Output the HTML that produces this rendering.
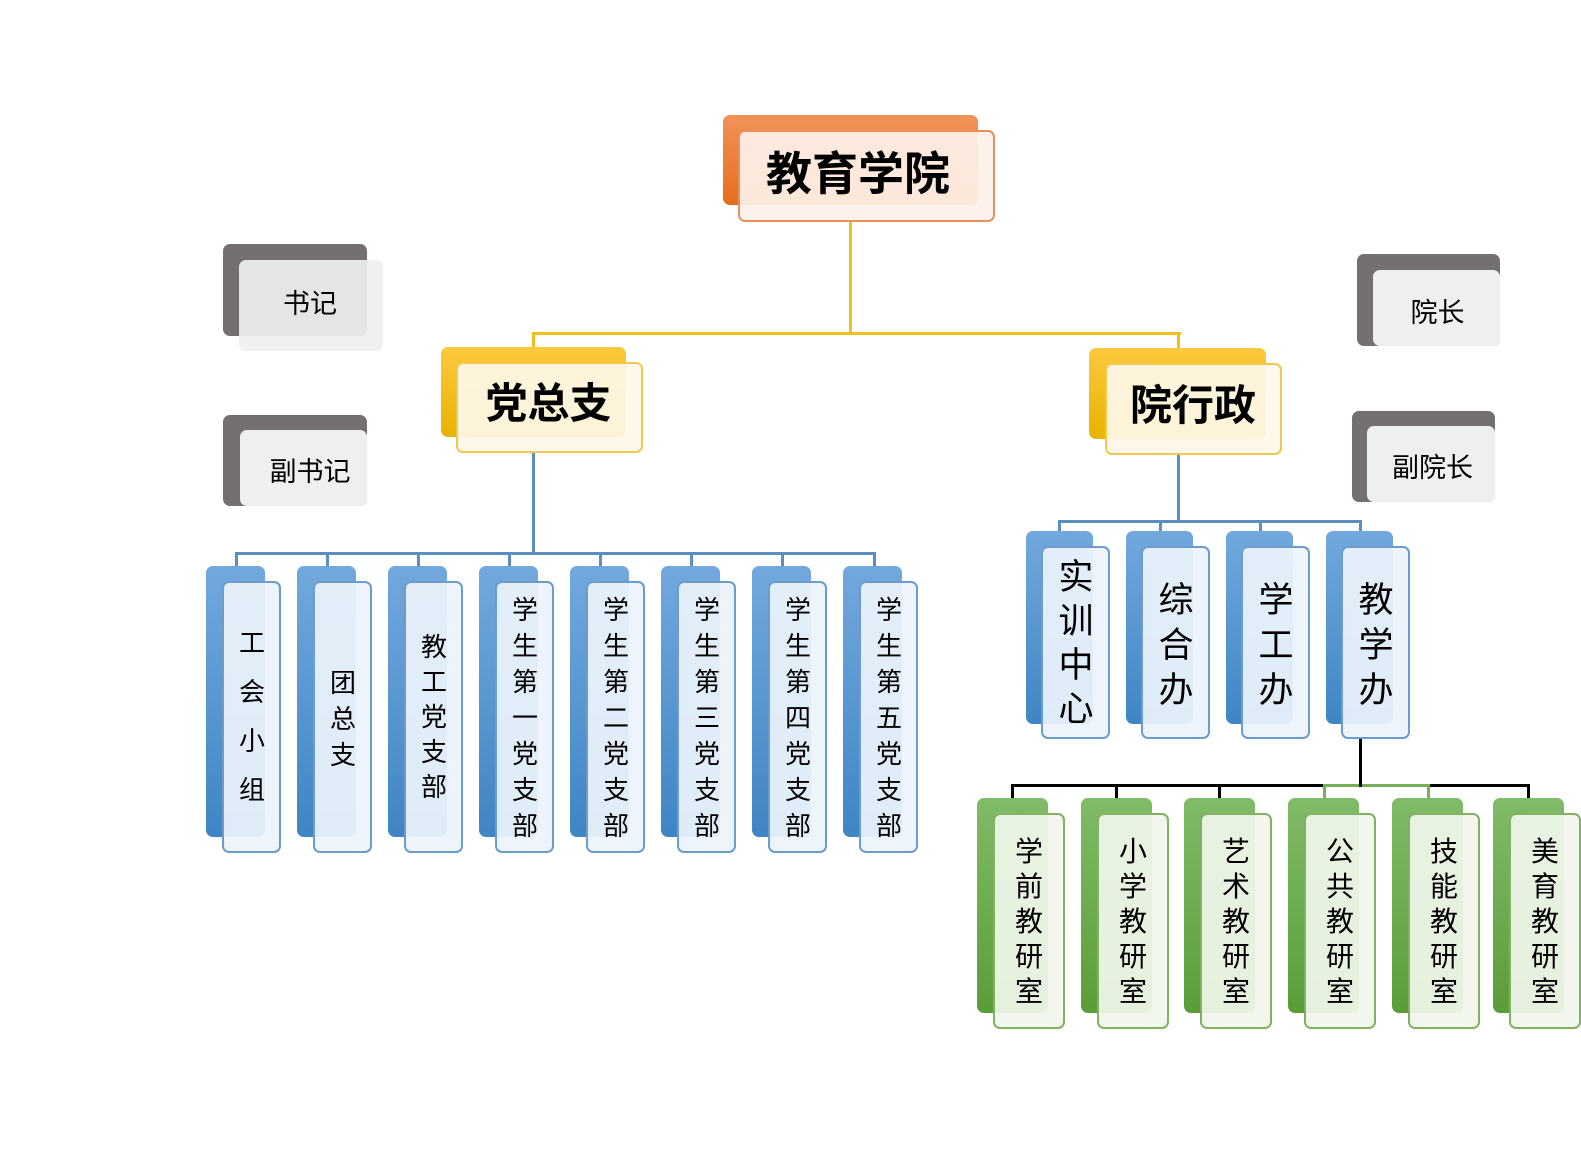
<!DOCTYPE html>
<html><head><meta charset="utf-8">
<style>
body{margin:0;width:1581px;height:1150px;background:#fff;position:relative;overflow:hidden;font-family:"Liberation Sans","Noto Sans CJK SC",sans-serif;color:#000}
div{position:absolute;box-sizing:border-box}
.r{border-radius:7px}
.ob{background:linear-gradient(#f09358,#e56d1c)}
.of{background:rgba(253,241,233,0.93);border:2px solid #e8905a}
.yb{background:linear-gradient(#fdc93e,#e7b300)}
.yf{background:rgba(253,248,232,0.93);border:2px solid #f0c850}
.gb{background:#747070}
.gf{background:rgba(239,239,239,0.92)}
.bb{background:linear-gradient(#72a8dd,#3f85c4)}
.bf{background:rgba(236,243,251,0.93);border:2px solid #6b9ccc}
.nb{background:linear-gradient(#80bb68,#5a9d38)}
.nf{background:rgba(240,246,236,0.93);border:2px solid #80b262}
.t{text-align:center;white-space:nowrap}
.v{text-align:center;width:60px}
.ln{position:absolute}
</style></head><body>

<!-- connectors -->
<div class="ln" style="left:849px;top:222px;width:3px;height:113px;background:#f0c020"></div>
<div class="ln" style="left:532px;top:332px;width:649px;height:3px;background:#f0c020"></div>
<div class="ln" style="left:532px;top:332px;width:3px;height:16px;background:#f0c020"></div>
<div class="ln" style="left:1177px;top:332px;width:3px;height:17px;background:#f0c020"></div>

<div class="ln" style="left:532px;top:453px;width:3px;height:101px;background:#5b8fc0"></div>
<div class="ln" style="left:235px;top:552px;width:641px;height:3px;background:#5b8fc0"></div>
<div class="ln" style="left:235px;top:552px;width:3px;height:15px;background:#5b8fc0"></div>
<div class="ln" style="left:326px;top:552px;width:3px;height:15px;background:#5b8fc0"></div>
<div class="ln" style="left:417px;top:552px;width:3px;height:15px;background:#5b8fc0"></div>
<div class="ln" style="left:508px;top:552px;width:3px;height:15px;background:#5b8fc0"></div>
<div class="ln" style="left:599px;top:552px;width:3px;height:15px;background:#5b8fc0"></div>
<div class="ln" style="left:690px;top:552px;width:3px;height:15px;background:#5b8fc0"></div>
<div class="ln" style="left:781px;top:552px;width:3px;height:15px;background:#5b8fc0"></div>
<div class="ln" style="left:873px;top:552px;width:3px;height:15px;background:#5b8fc0"></div>

<div class="ln" style="left:1177px;top:455px;width:3px;height:67px;background:#5b8fc0"></div>
<div class="ln" style="left:1058px;top:520px;width:304px;height:3px;background:#5b8fc0"></div>
<div class="ln" style="left:1058px;top:520px;width:3px;height:12px;background:#5b8fc0"></div>
<div class="ln" style="left:1159px;top:520px;width:3px;height:12px;background:#5b8fc0"></div>
<div class="ln" style="left:1259px;top:520px;width:3px;height:12px;background:#5b8fc0"></div>
<div class="ln" style="left:1359px;top:520px;width:3px;height:12px;background:#5b8fc0"></div>

<div class="ln" style="left:1011px;top:784px;width:519px;height:3px;background:#000"></div>
<div class="ln" style="left:1323px;top:784px;width:106px;height:3px;background:#78b058"></div>
<div class="ln" style="left:1359px;top:739px;width:3px;height:48px;background:#000"></div>
<div class="ln" style="left:1011px;top:784px;width:3px;height:15px;background:#000"></div>
<div class="ln" style="left:1115px;top:784px;width:3px;height:15px;background:#000"></div>
<div class="ln" style="left:1218px;top:784px;width:3px;height:15px;background:#000"></div>
<div class="ln" style="left:1323px;top:784px;width:3px;height:15px;background:#78b058"></div>
<div class="ln" style="left:1427px;top:784px;width:3px;height:15px;background:#78b058"></div>
<div class="ln" style="left:1527px;top:784px;width:3px;height:15px;background:#000"></div>

<!-- top -->
<div class="r ob" style="left:723px;top:115px;width:255px;height:90px"></div>
<div class="r of" style="left:738px;top:130px;width:257px;height:92px"></div>
<div class="t" style="left:738px;top:146px;width:240px;font-size:46px;line-height:56px;font-weight:bold">教育学院</div>

<div class="r yb" style="left:441px;top:347px;width:185px;height:90px"></div>
<div class="r yf" style="left:456px;top:362px;width:187px;height:91px"></div>
<div class="t" style="left:456px;top:378px;width:185px;font-size:42px;line-height:52px;font-weight:bold">党总支</div>

<div class="r yb" style="left:1089px;top:348px;width:177px;height:91px"></div>
<div class="r yf" style="left:1105px;top:363px;width:177px;height:92px"></div>
<div class="t" style="left:1105px;top:380px;width:176px;font-size:42px;line-height:52px;font-weight:bold">院行政</div>

<!-- gray -->
<div class="r gb" style="left:223px;top:244px;width:144px;height:92px"></div>
<div class="r gf" style="left:239px;top:260px;width:144px;height:91px"></div>
<div class="t" style="left:239px;top:287px;width:142px;font-size:27px;line-height:34px">书记</div>

<div class="r gb" style="left:223px;top:415px;width:144px;height:91px"></div>
<div class="r" style="left:240px;top:430px;width:127px;height:76px;background:#efefef"></div>
<div class="t" style="left:230px;top:455px;width:160px;font-size:27px;line-height:34px">副书记</div>

<div class="r gb" style="left:1357px;top:254px;width:143px;height:92px"></div>
<div class="r" style="left:1373px;top:270px;width:127px;height:76px;background:#efefef"></div>
<div class="t" style="left:1380px;top:296px;width:115px;font-size:27px;line-height:34px">院长</div>

<div class="r gb" style="left:1352px;top:411px;width:143px;height:91px"></div>
<div class="r" style="left:1367px;top:426px;width:128px;height:76px;background:#efefef"></div>
<div class="t" style="left:1365px;top:451px;width:135px;font-size:27px;line-height:34px">副院长</div>

<!-- left blue -->
<div class="r bb" style="left:206px;top:566px;width:59px;height:271px"></div>
<div class="r bf" style="left:222px;top:581px;width:59px;height:272px"></div>
<div class="v" style="left:222px;top:619px;font-size:26px;line-height:49px">工<br>会<br>小<br>组</div>

<div class="r bb" style="left:297px;top:566px;width:59px;height:271px"></div>
<div class="r bf" style="left:313px;top:581px;width:59px;height:272px"></div>
<div class="v" style="left:313px;top:665px;font-size:26px;line-height:36px">团<br>总<br>支</div>

<div class="r bb" style="left:388px;top:566px;width:59px;height:271px"></div>
<div class="r bf" style="left:404px;top:581px;width:59px;height:272px"></div>
<div class="v" style="left:404px;top:630px;font-size:26px;line-height:35px">教<br>工<br>党<br>支<br>部</div>

<div class="r bb" style="left:479px;top:566px;width:59px;height:271px"></div>
<div class="r bf" style="left:495px;top:581px;width:59px;height:272px"></div>
<div class="v" style="left:495px;top:592px;font-size:26px;line-height:36px">学<br>生<br>第<br>一<br>党<br>支<br>部</div>

<div class="r bb" style="left:570px;top:566px;width:59px;height:271px"></div>
<div class="r bf" style="left:586px;top:581px;width:59px;height:272px"></div>
<div class="v" style="left:586px;top:592px;font-size:26px;line-height:36px">学<br>生<br>第<br>二<br>党<br>支<br>部</div>

<div class="r bb" style="left:661px;top:566px;width:59px;height:271px"></div>
<div class="r bf" style="left:677px;top:581px;width:59px;height:272px"></div>
<div class="v" style="left:677px;top:592px;font-size:26px;line-height:36px">学<br>生<br>第<br>三<br>党<br>支<br>部</div>

<div class="r bb" style="left:752px;top:566px;width:59px;height:271px"></div>
<div class="r bf" style="left:768px;top:581px;width:59px;height:272px"></div>
<div class="v" style="left:768px;top:592px;font-size:26px;line-height:36px">学<br>生<br>第<br>四<br>党<br>支<br>部</div>

<div class="r bb" style="left:843px;top:566px;width:59px;height:271px"></div>
<div class="r bf" style="left:859px;top:581px;width:59px;height:272px"></div>
<div class="v" style="left:859px;top:592px;font-size:26px;line-height:36px">学<br>生<br>第<br>五<br>党<br>支<br>部</div>

<!-- right blue -->
<div class="r bb" style="left:1026px;top:531px;width:67px;height:193px"></div>
<div class="r bf" style="left:1041px;top:546px;width:69px;height:193px"></div>
<div class="v" style="left:1046px;top:556px;font-size:35px;line-height:44px">实<br>训<br>中<br>心</div>

<div class="r bb" style="left:1126px;top:531px;width:67px;height:193px"></div>
<div class="r bf" style="left:1141px;top:546px;width:69px;height:193px"></div>
<div class="v" style="left:1146px;top:578px;font-size:35px;line-height:45px">综<br>合<br>办</div>

<div class="r bb" style="left:1226px;top:531px;width:67px;height:193px"></div>
<div class="r bf" style="left:1241px;top:546px;width:69px;height:193px"></div>
<div class="v" style="left:1246px;top:578px;font-size:35px;line-height:45px">学<br>工<br>办</div>

<div class="r bb" style="left:1326px;top:531px;width:67px;height:193px"></div>
<div class="r bf" style="left:1341px;top:546px;width:69px;height:193px"></div>
<div class="v" style="left:1346px;top:578px;font-size:35px;line-height:45px">教<br>学<br>办</div>

<!-- green -->
<div class="r nb" style="left:977px;top:798px;width:71px;height:215px"></div>
<div class="r nf" style="left:993px;top:813px;width:72px;height:216px"></div>
<div class="v" style="left:999px;top:834px;font-size:28px;line-height:35px">学<br>前<br>教<br>研<br>室</div>

<div class="r nb" style="left:1081px;top:798px;width:71px;height:215px"></div>
<div class="r nf" style="left:1097px;top:813px;width:72px;height:216px"></div>
<div class="v" style="left:1103px;top:834px;font-size:28px;line-height:35px">小<br>学<br>教<br>研<br>室</div>

<div class="r nb" style="left:1184px;top:798px;width:71px;height:215px"></div>
<div class="r nf" style="left:1200px;top:813px;width:72px;height:216px"></div>
<div class="v" style="left:1206px;top:834px;font-size:28px;line-height:35px">艺<br>术<br>教<br>研<br>室</div>

<div class="r nb" style="left:1288px;top:798px;width:71px;height:215px"></div>
<div class="r nf" style="left:1304px;top:813px;width:72px;height:216px"></div>
<div class="v" style="left:1310px;top:834px;font-size:28px;line-height:35px">公<br>共<br>教<br>研<br>室</div>

<div class="r nb" style="left:1392px;top:798px;width:71px;height:215px"></div>
<div class="r nf" style="left:1408px;top:813px;width:72px;height:216px"></div>
<div class="v" style="left:1414px;top:834px;font-size:28px;line-height:35px">技<br>能<br>教<br>研<br>室</div>

<div class="r nb" style="left:1493px;top:798px;width:71px;height:215px"></div>
<div class="r nf" style="left:1509px;top:813px;width:72px;height:216px"></div>
<div class="v" style="left:1515px;top:834px;font-size:28px;line-height:35px">美<br>育<br>教<br>研<br>室</div>

</body></html>
